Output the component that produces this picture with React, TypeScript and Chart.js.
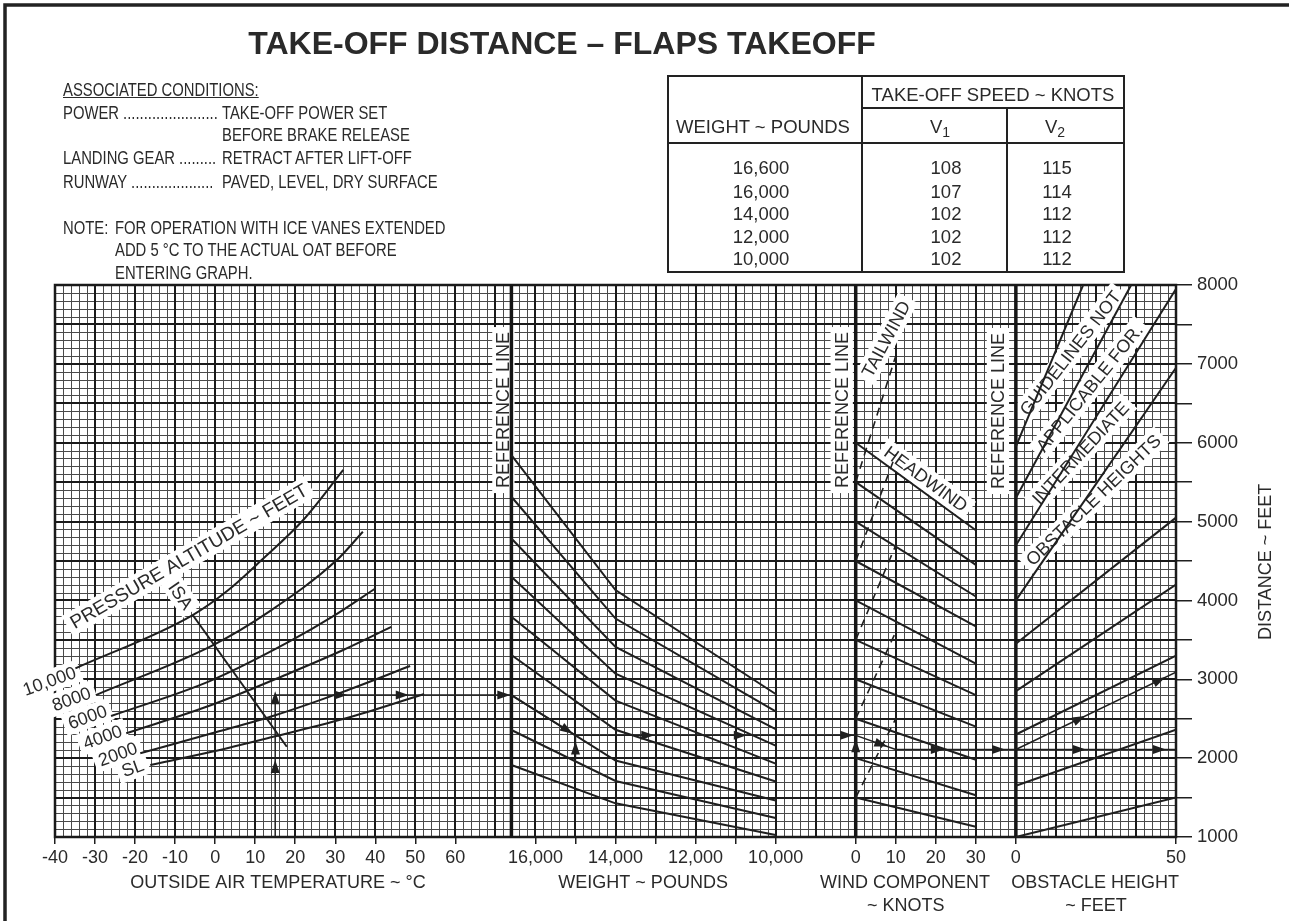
import React, { useEffect, useRef } from "react";
import { Chart, registerables } from "chart.js";

Chart.register(...registerables);

const W_PX = 1289;
const H_PX = 921;
const FONT = '"Liberation Sans", Arial, Helvetica, sans-serif';
const INK = "#1f1f1f";
const TEXT = "#2a2a2a";

// ---------------- axis data ----------------
const distanceTicks = [1000, 1500, 2000, 2500, 3000, 3500, 4000, 4500, 5000, 5500, 6000, 6500, 7000, 7500, 8000];
const distanceTickLabels = ["1000", "", "2000", "", "3000", "", "4000", "", "5000", "", "6000", "", "7000", "", "8000"];
const oatTicks = [-40, -30, -20, -10, 0, 10, 20, 30, 40, 50, 60];
const weightTicks = [16000, 15000, 14000, 13000, 12000, 11000, 10000];
const weightTickLabels = ["16,000", "", "14,000", "", "12,000", "", "10,000"];
const windTicks = [0, 10, 20, 30];
const obstacleTicks = [0, 50];

// ---------------- OAT / pressure altitude panel: [°C, feet] ----------------
const altSL = [[-16.2, 1913], [-0.9, 2080], [14.5, 2271], [34, 2525], [52.2, 2813]];
const alt2000 = [[-18.7, 2061], [-1, 2312], [15.2, 2547], [31.9, 2840], [48.7, 3168]];
const alt4000 = [[-22.2, 2315], [-1.1, 2670], [18.7, 3080], [31.7, 3365], [44, 3664]];
const alt6000 = [[-26, 2534], [-1.2, 2980], [18.6, 3480], [29.5, 3800], [40, 4151]];
const alt8000 = [[-29.8, 2800], [-0.5, 3434], [13.4, 3855], [30.4, 4512], [36.9, 4871]];
const alt10000 = [[-34.9, 3139], [-5.6, 3815], [3.3, 4132], [11.6, 4512], [22, 5020], [32, 5654]];
const isaLine = [[-5.6, 3815], [17.9, 2144]];

// ---------------- weight panel ----------------
const weightRefLb = 16600;
const weightKinkLb = 14000;
const weightEndLb = 10000;
const weightStartFt = [5844, 5315, 4785, 4301, 3793, 3308, 2800, 2357, 1913];
const weightKinkFt = [4132, 3770, 3410, 3070, 2730, 2360, 1970, 1710, 1427];
const weightEndFt = [2813, 2594, 2369, 2159, 1931, 1704, 1462, 1240, 1025];

// ---------------- wind panel ----------------
const headwindMaxKt = 30;
const headwindStartFt = [6000, 5500, 5000, 4500, 4000, 3500, 3000, 2500, 2000, 1500];
const headwindEndFt = [4890, 4450, 4050, 3670, 3200, 2800, 2400, 1980, 1530, 1130];
const tailwindMaxKt = 10;
const tailwindStartFt = [1500, 2500, 3500, 4500, 5500];
const tailwindEndFt = [2500, 3600, 4700, 5850, 7100];

// ---------------- obstacle panel ----------------
const obstacleStartFt = [5950, 5300, 4700, 4000, 3450, 2850, 2300, 1650, 1000];
const obstacleEndHeightFt = [21, 36, 50, 50, 50, 50, 50, 50, 50];
const obstacleEndFt = [8000, 8000, 7950, 6950, 5050, 4200, 3300, 2360, 1500];

// ---------------- worked example ----------------
const exampleOatC = 15;
const exampleAfterOatFt = 2800;
const exampleWeightLb = 15000;
const exampleWeightFromFt = 1980;
const exampleAfterWeightFt = 2289;
const exampleHeadwindKt = 10;
const exampleAfterWindFt = 2110;
const exampleObstacleHeightFt = 50;
const exampleFinalFt = 3090;

// ---------------- panel <-> grid-cell mapping ----------------
const GRID_CELLS = 28;
const cellOf: any = {
  xT: (v: number) => (v + 40) / 10,
  xW: (v: number) => 12 + (16000 - v) / 1000,
  xV: (v: number) => 20 + v / 10,
  xH: (v: number) => 24 + v / 12.5,
};
const valueAt: any = {
  xT: (u: number) => u * 10 - 40,
  xW: (u: number) => 16000 - (u - 12) * 1000,
  xV: (u: number) => (u - 20) * 10,
  xH: (u: number) => (u - 24) * 12.5,
};
const convert = (from: string, v: number, to: string) => valueAt[to](cellOf[from](v));

const bottomTicks = [
  ...oatTicks.map((t) => ({ u: cellOf.xT(t), label: String(t) })),
  ...weightTicks.map((w, i) => ({ u: cellOf.xW(w), label: weightTickLabels[i] })),
  ...windTicks.map((v) => ({ u: cellOf.xV(v), label: String(v) })),
  ...obstacleTicks.map((h) => ({ u: cellOf.xH(h), label: String(h) })),
].sort((a, b) => a.u - b.u);

// ---------------- text placed inside the chart (panel units) ----------------
const chartLabels = [
  { axis: "xT", x: -41.4, y: 2978, text: "10,000", angle: -20 },
  { axis: "xT", x: -35.9, y: 2750, text: "8000", angle: -20 },
  { axis: "xT", x: -31.9, y: 2522, text: "6000", angle: -20 },
  { axis: "xT", x: -28.1, y: 2268, text: "4000", angle: -20 },
  { axis: "xT", x: -24.3, y: 2052, text: "2000", angle: -20 },
  { axis: "xT", x: -20.6, y: 1875, text: "SL", angle: -20 },
  { axis: "xT", x: -6.6, y: 4560, text: "PRESSURE ALTITUDE ~ FEET", angle: -30, size: 19 },
  { axis: "xT", x: -8.6, y: 4060, text: "ISA", angle: 55 },
  { axis: "xW", x: 16800, y: 6414, text: "REFERENCE LINE", angle: -90 },
  { axis: "xV", x: -3.5, y: 6414, text: "REFERENCE LINE", angle: -90 },
  { axis: "xH", x: -5.6, y: 6402, text: "REFERENCE LINE", angle: -90 },
  { axis: "xV", x: 17.5, y: 5539, text: "HEADWIND", angle: 36 },
  { axis: "xV", x: 7.6, y: 7315, text: "TAILWIND", angle: -62 },
  { axis: "xH", x: 17.0, y: 7137, text: "GUIDELINES NOT", angle: -52 },
  { axis: "xH", x: 23.0, y: 6693, text: "APPLICABLE FOR.", angle: -51 },
  { axis: "xH", x: 20.2, y: 5869, text: "INTERMEDIATE", angle: -47 },
  { axis: "xH", x: 24.2, y: 5273, text: "OBSTACLE HEIGHTS", angle: -44 },
];

// axis titles under the grid (grid-cell units, pixel rows)
const axisTitles = [
  { u: 5.57, row: 882, text: "OUTSIDE AIR TEMPERATURE ~ °C" },
  { u: 14.69, row: 882, text: "WEIGHT ~ POUNDS" },
  { u: 21.23, row: 882, text: "WIND COMPONENT" },
  { u: 21.25, row: 905, text: "~ KNOTS" },
  { u: 25.98, row: 882, text: "OBSTACLE HEIGHT" },
  { u: 26.0, row: 905, text: "~ FEET" },
];

const pts = (arr: number[][]) => arr.map(([x, y]) => ({ x, y }));

function lineSet(data: any[], axis: string, extra: any = {}) {
  return {
    data,
    xAxisID: axis,
    yAxisID: "y",
    showLine: true,
    borderColor: INK,
    backgroundColor: INK,
    borderWidth: 2,
    pointRadius: 0,
    fill: false,
    ...extra,
  };
}

function buildExample() {
  const refT = convert("xW", weightRefLb, "xT");
  const windRefW = convert("xV", 0, "xW");
  const obsRefV = convert("xH", 0, "xV");
  return [
    { axis: "xT", from: [exampleOatC, 1000], to: [exampleOatC, exampleAfterOatFt], heads: [0.5, 0.985] },
    { axis: "xT", from: [exampleOatC, exampleAfterOatFt], to: [refT, exampleAfterOatFt], heads: [0.28, 0.54, 0.97] },
    { axis: "xW", from: [weightRefLb, exampleAfterOatFt], to: [exampleWeightLb, exampleAfterWeightFt], heads: [0.88] },
    { axis: "xW", from: [exampleWeightLb, exampleWeightFromFt], to: [exampleWeightLb, exampleAfterWeightFt], heads: [0.5] },
    { axis: "xW", from: [exampleWeightLb, exampleAfterWeightFt], to: [windRefW, exampleAfterWeightFt], heads: [0.26, 0.59, 0.97] },
    { axis: "xV", from: [0, exampleAfterWeightFt], to: [exampleHeadwindKt, exampleAfterWindFt], heads: [0.65] },
    { axis: "xV", from: [0, exampleAfterWindFt - 100], to: [0, exampleAfterWindFt + 80], heads: [0.85] },
    { axis: "xV", from: [exampleHeadwindKt, exampleAfterWindFt], to: [obsRefV, exampleAfterWindFt], heads: [0.35, 0.86] },
    { axis: "xH", from: [0, exampleAfterWindFt], to: [exampleObstacleHeightFt, exampleAfterWindFt], heads: [0.4, 0.9] },
    { axis: "xH", from: [0, exampleAfterWindFt], to: [exampleObstacleHeightFt, exampleFinalFt], heads: [0.4, 0.9] },
  ];
}

function drawLabel(ctx: any, text: string, x: number, y: number, angle: number, size = 18, box = true) {
  ctx.save();
  ctx.translate(x, y);
  ctx.rotate((angle * Math.PI) / 180);
  ctx.font = `${size}px ${FONT}`;
  const w = ctx.measureText(text).width;
  if (box) {
    ctx.fillStyle = "#ffffff";
    ctx.fillRect(-w / 2 - 5, -size * 0.62, w + 10, size * 1.24);
  }
  ctx.fillStyle = TEXT;
  ctx.textAlign = "center";
  ctx.textBaseline = "middle";
  ctx.fillText(text, 0, 1);
  ctx.restore();
}

const sketchPlugin = {
  id: "takeoffSketch",
  beforeDraw(chart: any) {
    const { ctx } = chart;
    ctx.save();
    ctx.fillStyle = "#ffffff";
    ctx.fillRect(0, 0, chart.width, chart.height);
    ctx.restore();
  },
  beforeDatasetsDraw(chart: any) {
    const { ctx, chartArea: a, scales } = chart;
    const sx = scales.x;
    const sy = scales.y;
    ctx.save();
    // minor grid
    ctx.strokeStyle = "#4a4a4a";
    ctx.lineWidth = 1;
    for (let i = 0; i <= GRID_CELLS * 5; i++) {
      if (i % 5 === 0) continue;
      const px = Math.round(sx.getPixelForValue(i / 5)) + 0.5;
      ctx.beginPath();
      ctx.moveTo(px, a.top);
      ctx.lineTo(px, a.bottom);
      ctx.stroke();
    }
    for (let d = 1000; d <= 8000; d += 100) {
      if (d % 500 === 0) continue;
      const py = Math.round(sy.getPixelForValue(d)) + 0.5;
      ctx.beginPath();
      ctx.moveTo(a.left, py);
      ctx.lineTo(a.right, py);
      ctx.stroke();
    }
    // major grid
    ctx.strokeStyle = "#1a1a1a";
    ctx.lineWidth = 2;
    for (let i = 0; i <= GRID_CELLS; i++) {
      const px = Math.round(sx.getPixelForValue(i));
      ctx.beginPath();
      ctx.moveTo(px, a.top);
      ctx.lineTo(px, a.bottom);
      ctx.stroke();
    }
    for (let d = 1000; d <= 8000; d += 500) {
      const py = Math.round(sy.getPixelForValue(d));
      ctx.beginPath();
      ctx.moveTo(a.left, py);
      ctx.lineTo(a.right, py);
      ctx.stroke();
    }
    ctx.lineWidth = 2.5;
    ctx.strokeRect(a.left, a.top, a.right - a.left, a.bottom - a.top);

    // labels with white knock-out boxes
    chartLabels.forEach((l: any) => {
      const px = scales[l.axis].getPixelForValue(l.x);
      const py = sy.getPixelForValue(l.y);
      drawLabel(ctx, l.text, px, py, l.angle, l.size || 18, true);
    });

    // heavy reference lines
    ctx.strokeStyle = "#151515";
    ctx.lineWidth = 3.5;
    [["xW", weightRefLb], ["xV", 0], ["xH", 0]].forEach(([id, v]: any) => {
      const px = scales[id].getPixelForValue(v);
      ctx.beginPath();
      ctx.moveTo(px, a.top);
      ctx.lineTo(px, a.bottom);
      ctx.stroke();
    });
    ctx.restore();
  },
  afterDatasetsDraw(chart: any) {
    const { ctx, scales } = chart;
    const sy = scales.y;
    ctx.save();
    ctx.fillStyle = INK;
    buildExample().forEach((seg: any) => {
      const sx = scales[seg.axis];
      const x1 = sx.getPixelForValue(seg.from[0]);
      const y1 = sy.getPixelForValue(seg.from[1]);
      const x2 = sx.getPixelForValue(seg.to[0]);
      const y2 = sy.getPixelForValue(seg.to[1]);
      const len = Math.hypot(x2 - x1, y2 - y1) || 1;
      const dx = (x2 - x1) / len;
      const dy = (y2 - y1) / len;
      seg.heads.forEach((t: number) => {
        const cx = x1 + (x2 - x1) * t;
        const cy = y1 + (y2 - y1) * t;
        const tipX = cx + dx * 6;
        const tipY = cy + dy * 6;
        const bx = cx - dx * 7;
        const by = cy - dy * 7;
        ctx.beginPath();
        ctx.moveTo(tipX, tipY);
        ctx.lineTo(bx - dy * 4.5, by + dx * 4.5);
        ctx.lineTo(bx + dy * 4.5, by - dx * 4.5);
        ctx.closePath();
        ctx.fill();
      });
    });
    ctx.restore();
  },
  afterDraw(chart: any) {
    const { ctx, scales } = chart;
    const sx = scales.x;
    const sy = scales.y;
    ctx.save();
    axisTitles.forEach((t) => drawLabel(ctx, t.text, sx.getPixelForValue(t.u), t.row, 0, 18, false));
    drawLabel(ctx, "DISTANCE ~ FEET", 1265, sy.getPixelForValue(4490), -90, 18, false);
    // frame (top and left edges of the scanned page border)
    ctx.strokeStyle = "#222";
    ctx.lineWidth = 3.5;
    ctx.beginPath();
    ctx.moveTo(5, H_PX);
    ctx.lineTo(5, 5);
    ctx.lineTo(W_PX, 5);
    ctx.stroke();
    ctx.restore();
  },
};

function buildDatasets() {
  const ds: any[] = [];
  [altSL, alt2000, alt4000, alt6000, alt8000, alt10000].forEach((c) =>
    ds.push(lineSet(pts(c), "xT", { cubicInterpolationMode: "monotone" }))
  );
  ds.push(lineSet(pts(isaLine), "xT"));
  weightStartFt.forEach((s, i) =>
    ds.push(
      lineSet(
        [
          { x: weightRefLb, y: s },
          { x: weightKinkLb, y: weightKinkFt[i] },
          { x: weightEndLb, y: weightEndFt[i] },
        ],
        "xW"
      )
    )
  );
  headwindStartFt.forEach((s, i) =>
    ds.push(lineSet([{ x: 0, y: s }, { x: headwindMaxKt, y: headwindEndFt[i] }], "xV"))
  );
  tailwindStartFt.forEach((s, i) =>
    ds.push(
      lineSet([{ x: 0, y: s }, { x: tailwindMaxKt, y: tailwindEndFt[i] }], "xV", {
        borderDash: [8, 6],
        borderWidth: 1.6,
      })
    )
  );
  obstacleStartFt.forEach((s, i) =>
    ds.push(lineSet([{ x: 0, y: s }, { x: obstacleEndHeightFt[i], y: obstacleEndFt[i] }], "xH"))
  );
  buildExample().forEach((seg: any) =>
    ds.push(
      lineSet(
        [
          { x: seg.from[0], y: seg.from[1] },
          { x: seg.to[0], y: seg.to[1] },
        ],
        seg.axis,
        { borderWidth: 1.5 }
      )
    )
  );
  return ds;
}

const hidden = (axis: string, reverse = false) => {
  const a = valueAt[axis](0);
  const b = valueAt[axis](GRID_CELLS);
  return { type: "linear", display: false, min: Math.min(a, b), max: Math.max(a, b), reverse };
};

const cond = { fontSize: 19, transform: "scaleX(0.78)", transformOrigin: "left center" };

function Txt({ x, y, size = 19, lh = 22, style = {}, children }: any) {
  return (
    <div
      style={{
        position: "absolute",
        left: x,
        top: y - lh / 2,
        fontSize: size,
        lineHeight: `${lh}px`,
        whiteSpace: "pre",
        ...style,
      }}
    >
      {children}
    </div>
  );
}

function CTxt({ x, y, size = 18.5, lh = 22, style = {}, children }: any) {
  return (
    <div
      style={{
        position: "absolute",
        left: x - 500,
        width: 1000,
        textAlign: "center",
        top: y - lh / 2,
        fontSize: size,
        lineHeight: `${lh}px`,
        whiteSpace: "pre",
        ...style,
      }}
    >
      {children}
    </div>
  );
}

const tableWeights = ["16,600", "16,000", "14,000", "12,000", "10,000"];
const tableV1 = ["108", "107", "102", "102", "102"];
const tableV2 = ["115", "114", "112", "112", "112"];
const tableRowsY = [168, 191.5, 214, 236.5, 259];

export default function App() {
  const ref = useRef<HTMLCanvasElement>(null);
  useEffect(() => {
    const canvas = ref.current;
    if (!canvas) return;
    const chart = new Chart(canvas, {
      type: "scatter",
      data: { datasets: buildDatasets() },
      plugins: [sketchPlugin],
      options: {
        responsive: false,
        animation: false,
        events: [],
        layout: { padding: { left: 55, top: 285, right: 0, bottom: 0 } },
        plugins: { legend: { display: false }, tooltip: { enabled: false } },
        scales: {
          x: {
            type: "linear",
            position: "bottom",
            min: 0,
            max: GRID_CELLS,
            afterBuildTicks: (s: any) => {
              s.ticks = bottomTicks.map((t) => ({ value: t.u }));
            },
            afterFit: (s: any) => {
              s.height = H_PX - 837;
            },
            ticks: {
              autoSkip: false,
              maxRotation: 0,
              minRotation: 0,
              padding: 3,
              color: TEXT,
              font: { family: FONT, size: 18 },
              callback: (_v: any, i: number) => (bottomTicks[i] ? bottomTicks[i].label : ""),
            },
            grid: { drawOnChartArea: false, drawTicks: true, tickLength: 7, color: INK, lineWidth: 1.5 },
            border: { display: false },
          },
          y: {
            type: "linear",
            position: "right",
            min: 1000,
            max: 8000,
            afterBuildTicks: (s: any) => {
              s.ticks = distanceTicks.map((v) => ({ value: v }));
            },
            afterFit: (s: any) => {
              s.width = W_PX - 1176;
            },
            ticks: {
              autoSkip: false,
              padding: 5,
              color: TEXT,
              font: { family: FONT, size: 18.5 },
              callback: (_v: any, i: number) => distanceTickLabels[i] || "",
            },
            grid: { drawOnChartArea: false, drawTicks: true, tickLength: 16, color: INK, lineWidth: 1.5 },
            border: { display: false },
          },
          xT: hidden("xT"),
          xW: hidden("xW", true),
          xV: hidden("xV"),
          xH: hidden("xH"),
        },
      } as any,
    } as any);
    return () => chart.destroy();
  }, []);

  return (
    <div
      style={{
        position: "absolute",
        left: 0,
        top: 0,
        width: W_PX,
        height: H_PX,
        background: "#fff",
        overflow: "hidden",
        fontFamily: FONT,
        color: TEXT,
      }}
    >
      <canvas ref={ref} width={W_PX} height={H_PX} style={{ position: "absolute", left: 0, top: 0 }} />

      <CTxt x={562} y={43} size={32} lh={36} style={{ fontWeight: "bold" }}>
        TAKE-OFF DISTANCE – FLAPS TAKEOFF
      </CTxt>

      <Txt x={63} y={90} style={{ ...cond, textDecoration: "underline" }}>ASSOCIATED CONDITIONS:</Txt>
      <Txt x={63} y={113} style={cond}>POWER .......................</Txt>
      <Txt x={222} y={113} style={cond}>TAKE-OFF POWER SET</Txt>
      <Txt x={222} y={135} style={cond}>BEFORE BRAKE RELEASE</Txt>
      <Txt x={63} y={158} style={cond}>LANDING GEAR .........</Txt>
      <Txt x={222} y={158} style={cond}>RETRACT AFTER LIFT-OFF</Txt>
      <Txt x={63} y={182} style={cond}>RUNWAY ....................</Txt>
      <Txt x={222} y={182} style={cond}>PAVED, LEVEL, DRY SURFACE</Txt>
      <Txt x={63} y={228} style={cond}>NOTE:</Txt>
      <Txt x={115} y={228} style={cond}>FOR OPERATION WITH ICE VANES EXTENDED</Txt>
      <Txt x={115} y={250} style={cond}>ADD 5 °C TO THE ACTUAL OAT BEFORE</Txt>
      <Txt x={115} y={273} style={cond}>ENTERING GRAPH.</Txt>

      {/* take-off speed table */}
      <div style={{ position: "absolute", left: 667, top: 75, width: 458, height: 198, border: "2px solid #222", boxSizing: "border-box" }} />
      <div style={{ position: "absolute", left: 861, top: 75, width: 2, height: 198, background: "#222" }} />
      <div style={{ position: "absolute", left: 1006, top: 108, width: 2, height: 165, background: "#222" }} />
      <div style={{ position: "absolute", left: 862, top: 107, width: 263, height: 2, background: "#222" }} />
      <div style={{ position: "absolute", left: 667, top: 142, width: 458, height: 2, background: "#222" }} />
      <CTxt x={993} y={95}>TAKE-OFF SPEED ~ KNOTS</CTxt>
      <CTxt x={763} y={127}>WEIGHT ~ POUNDS</CTxt>
      <CTxt x={940} y={127}>
        V<sub style={{ fontSize: 14, verticalAlign: "-4px", lineHeight: 0 }}>1</sub>
      </CTxt>
      <CTxt x={1055} y={127}>
        V<sub style={{ fontSize: 14, verticalAlign: "-4px", lineHeight: 0 }}>2</sub>
      </CTxt>
      {tableRowsY.map((yy, i) => (
        <React.Fragment key={i}>
          <CTxt x={761} y={yy}>{tableWeights[i]}</CTxt>
          <CTxt x={946} y={yy}>{tableV1[i]}</CTxt>
          <CTxt x={1057} y={yy}>{tableV2[i]}</CTxt>
        </React.Fragment>
      ))}
    </div>
  );
}
